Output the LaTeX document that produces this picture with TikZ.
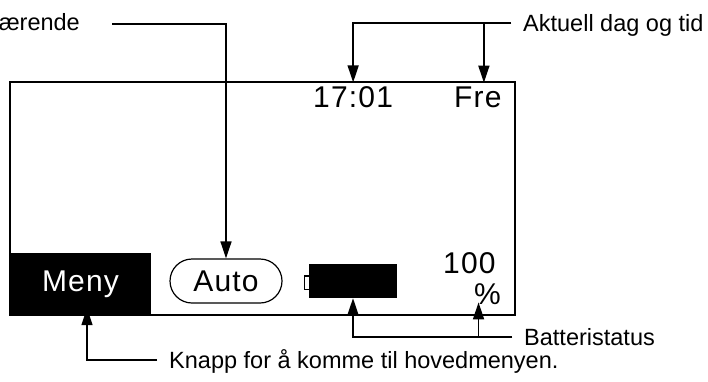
\documentclass[tikz,border=0pt]{standalone}
\usepackage{fontspec}
\setmainfont{Liberation Sans}
\newfontfamily\lcdfont[LetterSpace=4]{Liberation Sans}
\usetikzlibrary{arrows.meta}

\begin{document}
\begin{tikzpicture}[x=1pt,y=-1pt,lbl/.style={inner xsep=12pt,inner ysep=0pt,text height=17pt,text depth=0pt,font=\fontsize{23.5}{26}\selectfont},lcd/.style={inner sep=0pt,font=\lcdfont\fontsize{30}{32}\selectfont},arr/.style={-{Triangle[length=17pt,width=11pt]},line width=1.5pt}]
\useasboundingbox (0,0) rectangle (708,381);

% skjermen
\draw[line width=1.2pt] (10,82) rectangle (515,315);
\node[lcd,fill=black,text=white,minimum width=141pt,minimum height=63pt] (meny) at(80.5,284.5) {Meny};
\node[lcd,draw,line width=1.2pt,rounded corners=22pt,minimum width=112pt,minimum height=44pt] (auto) at(226,281) {Auto};
\draw[line width=1.3pt,fill=white] (304.5,276) rectangle (310,289.5);
\node[fill=black,minimum width=88pt,minimum height=34pt,inner sep=0pt] (batt) at(353,281) {};
\node[lcd,anchor=base west] (klokke) at(313,107) {17:01};
\node[lcd,anchor=base west] (dag) at(454,107) {Fre};
\node[lcd,anchor=base west] (nivaa) at(443,273) {100};
\node[lcd,anchor=base west] (pst) at(474,304) {\%};

% forklaringer
\node[lbl,anchor=east] (moduslbl) at(92,22) {ærende};
\node[lbl,anchor=west] (tidlbl) at(511,23) {Aktuell dag og tid};
\node[lbl,anchor=west] (battlbl) at(512,337) {Batteristatus};
\node[lbl,anchor=west] (menylbl) at(157,360) {Knapp for å komme til hovedmenyen.};
\coordinate (modusstart) at(112,24);

\draw[arr] (modusstart) -| (auto.north);
\draw[arr] (tidlbl.west) -| ([yshift=3.5pt]klokke.north);
\draw[arr] (tidlbl.west) -| ([xshift=6pt,yshift=3.5pt]dag.north);
\draw[arr] (battlbl.west) -| (batt.south);
\draw[arr] (battlbl.west) -| ([xshift=-9pt,yshift=2pt]pst.south);
\draw[arr] (menylbl.west) -| ([xshift=6.5pt,yshift=8pt]meny.south);
\end{tikzpicture}
\end{document}
